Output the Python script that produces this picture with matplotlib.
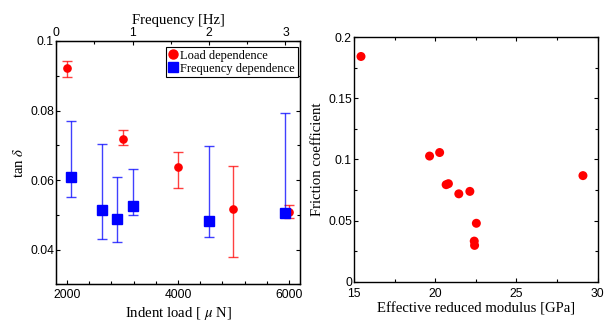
import matplotlib
matplotlib.use("Agg")
import matplotlib.pyplot as plt
from matplotlib.ticker import MultipleLocator, FixedLocator
from matplotlib.lines import Line2D

plt.rcParams['mathtext.fontset'] = 'stix'

# Load dependence (bottom axis: indent load, uN)
load = [2000, 3000, 4000, 5000, 6000]
load_tan = [0.0921, 0.0718, 0.0637, 0.0517, 0.0507]
load_hi = [0.0942, 0.0744, 0.0680, 0.0640, 0.0529]
load_lo = [0.0897, 0.0701, 0.0577, 0.0378, 0.0490]

# Frequency dependence (top axis: frequency, Hz)
freq = [0.2, 0.6, 0.8, 1.0, 2.0, 3.0]
freq_tan = [0.0608, 0.0513, 0.0488, 0.0525, 0.0481, 0.0505]
freq_hi = [0.0770, 0.0704, 0.0610, 0.0632, 0.0698, 0.0793]
freq_lo = [0.0552, 0.0430, 0.0423, 0.0500, 0.0435, 0.0495]

# Right panel
modulus = [15.43, 19.65, 20.27, 20.67, 20.81, 21.45, 22.13, 22.53, 22.40, 22.42, 29.09]
friction = [0.1843, 0.1028, 0.1057, 0.0794, 0.0802, 0.0719, 0.0739, 0.0478, 0.0332, 0.0297, 0.0868]

RED = '#ff0000'
BLUE = '#0000ff'
SANS = 'Liberation Sans'
SERIF = 'Liberation Serif'
TICK_FS = 8.7
LAB_FS = 10.6

fig = plt.figure(figsize=(6.13, 3.24), dpi=100)

def style_ticks(ax, xpad=3.2):
    ax.tick_params(which='both', direction='in', top=False, right=True,
                   labelsize=TICK_FS, pad=1.5)
    ax.tick_params(axis='x', which='both', pad=xpad)
    ax.tick_params(which='major', length=3, width=0.8)
    ax.tick_params(which='minor', length=2, width=0.8)
    for lab in ax.get_xticklabels() + ax.get_yticklabels():
        lab.set_fontfamily(SANS)
    for s in ax.spines.values():
        s.set_linewidth(1.0)

# ---------------- Left panel ----------------
ax1 = fig.add_axes([0.0914, 0.1225, 0.398, 0.751])
ax1.set_xlim(1800, 6200)
ax1.set_ylim(0.03, 0.1)
ax1.xaxis.set_major_locator(FixedLocator([2000, 4000, 6000]))
ax1.xaxis.set_minor_locator(MultipleLocator(400))
ax1.yaxis.set_major_locator(FixedLocator([0.04, 0.06, 0.08, 0.1]))
ax1.yaxis.set_minor_locator(MultipleLocator(0.01))
ax1.set_yticklabels(['0.04', '0.06', '0.08', '0.1'])
ax1.set_xticklabels(['2000', '4000', '6000'])

yerr_load = [[t - l for t, l in zip(load_tan, load_lo)],
             [h - t for t, h in zip(load_tan, load_hi)]]
eb1 = ax1.errorbar(load, load_tan, yerr=yerr_load, fmt='o', color=RED,
                   ecolor=RED, elinewidth=1.0, capsize=3.5, capthick=1.0,
                   markersize=5.2, label='Load dependence', zorder=3)
for art in eb1[1] + eb1[2]:
    art.set_alpha(0.75)
style_ticks(ax1)
ax1.set_xlabel(r'Indent load [ $\mu$ N]', fontfamily=SERIF, fontsize=LAB_FS, labelpad=3)
ax1.set_ylabel(r'tan $\delta$', fontfamily=SERIF, fontsize=LAB_FS, labelpad=3)

ax2 = ax1.twiny()
ax2.set_xlim(0, 3.19)
ax2.xaxis.set_major_locator(FixedLocator([0, 1, 2, 3]))
ax2.xaxis.set_minor_locator(MultipleLocator(0.5))
ax2.set_xticklabels(['0', '1', '2', '3'])
yerr_freq = [[t - l for t, l in zip(freq_tan, freq_lo)],
             [h - t for t, h in zip(freq_tan, freq_hi)]]
eb2 = ax2.errorbar(freq, freq_tan, yerr=yerr_freq, fmt='s', color=BLUE,
                   ecolor=BLUE, elinewidth=1.0, capsize=3.5, capthick=1.0,
                   markersize=6.5, label='Frequency dependence', zorder=3)
for art in eb2[1] + eb2[2]:
    art.set_alpha(0.75)
ax2.tick_params(which='both', direction='in', labelsize=TICK_FS, pad=1.5)
ax2.tick_params(which='major', length=3, width=0.8)
ax2.tick_params(which='minor', length=2, width=0.8)
for lab in ax2.get_xticklabels():
    lab.set_fontfamily(SANS)
ax2.set_xlabel('Frequency [Hz]', fontfamily=SERIF, fontsize=LAB_FS, labelpad=2)

l1 = ['Load dependence', 'Frequency dependence']
handles = [Line2D([], [], marker='o', color=RED, linestyle='none', markersize=6.5),
           Line2D([], [], marker='s', color=BLUE, linestyle='none', markersize=7.5)]
leg = ax2.legend(handles, l1, loc='upper right', bbox_to_anchor=(0.99, 0.975),
                 prop={'family': SERIF, 'size': 9}, frameon=True, fancybox=False,
                 edgecolor='black', framealpha=1, handlelength=0.7, handletextpad=0.25,
                 borderpad=0.2, labelspacing=0.1, borderaxespad=0)
leg.get_frame().set_linewidth(0.8)

# ---------------- Right panel ----------------
ax3 = fig.add_axes([0.5775, 0.1306, 0.3976, 0.7543])
ax3.scatter(modulus, friction, s=42, color=RED, edgecolors='none', zorder=3)
ax3.set_xlim(15, 30)
ax3.set_ylim(0, 0.2)
ax3.xaxis.set_major_locator(FixedLocator([15, 20, 25, 30]))
ax3.xaxis.set_minor_locator(MultipleLocator(2.5))
ax3.yaxis.set_major_locator(FixedLocator([0, 0.05, 0.1, 0.15, 0.2]))
ax3.yaxis.set_minor_locator(MultipleLocator(0.025))
ax3.set_xticklabels(['15', '20', '25', '30'])
ax3.set_yticklabels(['0', '0.05', '0.1', '0.15', '0.2'])
style_ticks(ax3, xpad=4.5)
ax3.tick_params(which='both', top=True)
ax3.set_xlabel('Effective reduced modulus [GPa]', fontfamily=SERIF, fontsize=LAB_FS, labelpad=2)
ax3.set_ylabel('Friction coefficient', fontfamily=SERIF, fontsize=LAB_FS, labelpad=3)

fig.savefig('out.png', dpi=100)
